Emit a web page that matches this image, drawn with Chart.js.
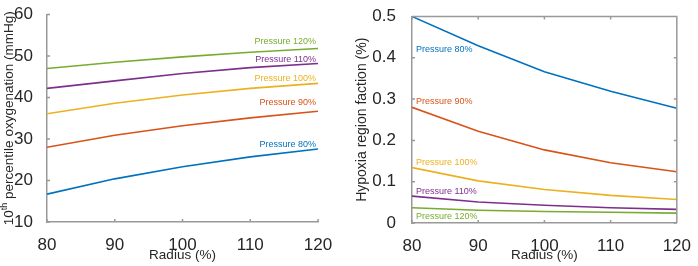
<!DOCTYPE html>
<html>
<head>
<meta charset="utf-8">
<script src="https://cdn.jsdelivr.net/npm/chart.js@4.4.1/dist/chart.umd.min.js"></script>
<style>
  html, body { margin: 0; padding: 0; background: #fff; }
  #wrap { position: relative; width: 698px; height: 266px; }
  #left { position: absolute; left: 0; top: 0; }
  #right { position: absolute; left: 345px; top: 0; }
</style>
</head>
<body>
<div id="wrap">
  <canvas id="left" width="345" height="266"></canvas>
  <canvas id="right" width="353" height="266"></canvas>
</div>
<script>
// x values shared by both panels
var radius = [80, 90, 100, 110, 120];
var seriesNames = ["Pressure 80%", "Pressure 90%", "Pressure 100%", "Pressure 110%", "Pressure 120%"];
var seriesColors = ["#0072BD", "#D95319", "#EDB120", "#7E2F8E", "#77AC30"];

// left panel: 10th percentile oxygenation (mmHg)
var oxy80 = [16.7, 20.4, 23.3, 25.7, 27.6];
var oxy90 = [28.0, 30.9, 33.2, 35.1, 36.7];
var oxy100 = [36.1, 38.6, 40.6, 42.2, 43.4];
var oxy110 = [42.2, 44.0, 45.8, 47.2, 48.2];
var oxy120 = [47.0, 48.5, 49.8, 50.9, 51.8];

// right panel: hypoxia region fraction (%)
var hyp80 = [0.500, 0.429, 0.366, 0.319, 0.278];
var hyp90 = [0.280, 0.222, 0.177, 0.146, 0.124];
var hyp100 = [0.134, 0.102, 0.081, 0.067, 0.057];
var hyp110 = [0.065, 0.051, 0.043, 0.037, 0.033];
var hyp120 = [0.037, 0.031, 0.028, 0.026, 0.024];

var textColor = "#262626";
var axisColor = "#999999";
var fontFamily = "'Liberation Sans', Arial, Helvetica, sans-serif";

function makeSets(series) {
  return series.map(function (vals, i) {
    return {
      label: seriesNames[i],
      data: vals.map(function (v, j) { return { x: radius[j], y: v }; }),
      borderColor: seriesColors[i],
      backgroundColor: seriesColors[i],
      borderWidth: 1.6,
      pointRadius: 0,
      tension: 0
    };
  });
}

// inward ticks and (optionally) the top/right edges of the box
function drawAxes(chart, box) {
  var ctx = chart.ctx, a = chart.chartArea;
  var xs = chart.scales.x, ys = chart.scales.y;
  var tl = 3;
  var x0 = a.left, x1 = a.right, y0 = a.top, y1 = a.bottom;
  ctx.save();
  ctx.strokeStyle = axisColor;
  ctx.lineWidth = 1.5;
  ctx.beginPath();
  if (box) {
    ctx.moveTo(x0, y0);
    ctx.lineTo(x1, y0);
    ctx.lineTo(x1, y1);
  }
  xs.ticks.forEach(function (tk) {
    var px = xs.getPixelForValue(tk.value);
    ctx.moveTo(px, y1); ctx.lineTo(px, y1 - tl);
    if (box) { ctx.moveTo(px, y0); ctx.lineTo(px, y0 + tl); }
  });
  ys.ticks.forEach(function (tk) {
    var py = ys.getPixelForValue(tk.value);
    ctx.moveTo(x0, py); ctx.lineTo(x0 + tl, py);
    if (box) { ctx.moveTo(x1, py); ctx.lineTo(x1 - tl, py); }
  });
  ctx.stroke();
  ctx.restore();
}

// series labels next to the lines
function drawLabels(chart, lab) {
  var ctx = chart.ctx;
  ctx.save();
  ctx.font = "9px " + fontFamily;
  ctx.textBaseline = "middle";
  ctx.textAlign = lab.align;
  chart.data.datasets.forEach(function (ds, i) {
    var pt = chart.getDatasetMeta(i).data[lab.index];
    ctx.fillStyle = ds.borderColor;
    ctx.fillText(ds.label, pt.x + lab.dx, pt.y + lab.dy[i]);
  });
  ctx.restore();
}

// rotated y title with superscript support
function drawYTitle(chart, tt) {
  var ctx = chart.ctx, a = chart.chartArea;
  var big = tt.size + "px " + fontFamily;
  var small = Math.round(tt.size * 0.65) + "px " + fontFamily;
  var total = 0;
  ctx.save();
  tt.parts.forEach(function (p) {
    ctx.font = p.sup ? small : big;
    p.w = ctx.measureText(p.text).width;
    total += p.w;
  });
  ctx.translate(tt.x, (a.top + a.bottom) / 2);
  ctx.rotate(-Math.PI / 2);
  ctx.fillStyle = textColor;
  ctx.textBaseline = "middle";
  ctx.textAlign = "left";
  var cx = -total / 2;
  tt.parts.forEach(function (p) {
    ctx.font = p.sup ? small : big;
    ctx.fillText(p.text, cx, p.sup ? -tt.size * 0.35 : 0);
    cx += p.w;
  });
  ctx.restore();
}

function panel(id, series, yMin, yMax, yStep, lay, lab, tt) {
  var decor = {
    id: "decor_" + id,
    afterDraw: function (chart) {
      drawAxes(chart, lay.box);
      drawLabels(chart, lab);
      drawYTitle(chart, tt);
    }
  };
  return new Chart(document.getElementById(id), {
    type: "line",
    data: { datasets: makeSets(series) },
    plugins: [decor],
    options: {
      responsive: false,
      animation: false,
      layout: { padding: { top: lay.top, right: lay.right, left: 0, bottom: 0 } },
      plugins: {
        legend: { display: false },
        tooltip: { enabled: false }
      },
      scales: {
        x: {
          type: "linear",
          min: 80, max: 120,
          grid: { display: false },
          border: { display: true, color: axisColor, width: 1.5 },
          ticks: {
            stepSize: 10, padding: 7, color: textColor,
            font: { family: fontFamily, size: 17, lineHeight: 1 }
          },
          title: {
            display: true, text: "Radius (%)", color: textColor,
            font: { family: fontFamily, size: 13.5 },
            padding: { top: 0, bottom: 3 }
          },
          afterFit: function (s) { s.height = lay.xh; }
        },
        y: {
          min: yMin, max: yMax,
          grid: { display: false },
          border: { display: true, color: axisColor, width: 1.5 },
          ticks: {
            stepSize: yStep, padding: lay.ypad, color: textColor,
            font: { family: fontFamily, size: 17, lineHeight: 1 }
          },
          afterFit: function (s) { s.width = lay.yw; }
        }
      }
    }
  });
}

panel("left", [oxy80, oxy90, oxy100, oxy110, oxy120], 10, 60, 10,
  { top: 7, right: 27, xh: 44, yw: 47, ypad: 6, box: false },
  { index: 4, align: "right", dx: -2, dy: [-4.6, -8.2, -5.1, -3.7, -7.3] },
  { x: 9, size: 13.5, parts: [{ text: "10" }, { text: "th", sup: true }, { text: " percentile oxygenation (mmHg)" }] });

panel("right", [hyp80, hyp90, hyp100, hyp110, hyp120], 0, 0.5, 0.1,
  { top: 11, right: 16, xh: 43, yw: 67, ypad: 8, box: true },
  { index: 0, align: "left", dx: 4, dy: [33.5, -5.7, -5.5, -4.8, 9] },
  { x: 17, size: 14, parts: [{ text: "Hypoxia region faction (%)" }] });
</script>
</body>
</html>
